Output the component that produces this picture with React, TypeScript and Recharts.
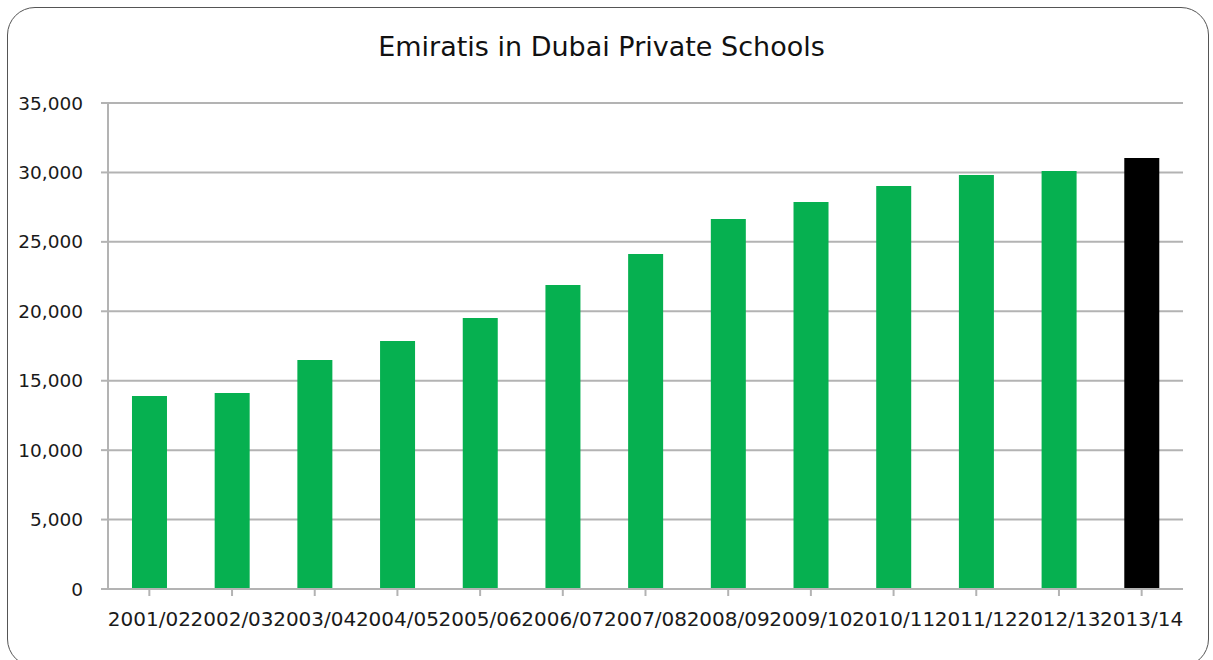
import React from "react";
import { Bar, BarChart, CartesianGrid, Cell, XAxis, YAxis } from "recharts";

const years = [
  "2001/02", "2002/03", "2003/04", "2004/05", "2005/06", "2006/07", "2007/08",
  "2008/09", "2009/10", "2010/11", "2011/12", "2012/13", "2013/14",
];
const students = [
  13900, 14120, 16490, 17860, 19510, 21890, 24130, 26650, 27870, 29020, 29810, 30100, 31040,
];
const yTicks = [0, 5000, 10000, 15000, 20000, 25000, 30000, 35000];

const chartData = years.map((year, i) => ({ year, students: students[i] }));

const fmt = (v: number) => v.toLocaleString("en-US");

const font = "'DejaVu Sans', sans-serif";

export default function App() {
  return (
    <div style={{ position: "absolute", left: 0, top: 0, width: 1213, height: 660, background: "#fff", overflow: "hidden", fontFamily: font }}>
      <div
        style={{
          position: "absolute",
          left: 7,
          top: 7,
          width: 1202,
          height: 660,
          border: "1.5px solid #555",
          borderRadius: 28,
          boxSizing: "border-box",
        }}
      />
      <div
        style={{
          position: "absolute",
          left: 0,
          top: 31,
          width: 1203,
          textAlign: "center",
          fontSize: 27,
          color: "#111",
        }}
      >
        Emiratis in Dubai Private Schools
      </div>
      <div style={{ position: "absolute", left: 0, top: 0 }}>
        <BarChart
          width={1213}
          height={660}
          data={chartData}
          margin={{ top: 103, right: 30, left: 8, bottom: 31 }}
          barCategoryGap="29%"
        >
          <CartesianGrid vertical={false} stroke="#b3b3b3" strokeWidth={2} />
          <XAxis
            dataKey="year"
            interval={0}
            height={40}
            tickSize={7}
            tickMargin={16}
            axisLine={{ stroke: "#b3b3b3", strokeWidth: 2 }}
            tickLine={{ stroke: "#b3b3b3", strokeWidth: 2 }}
            tick={{ fill: "#1a1a1a", fontSize: 20, fontFamily: font }}
          />
          <YAxis
            width={100}
            domain={[0, 35000]}
            ticks={yTicks}
            tickFormatter={fmt}
            tickSize={7}
            tickMargin={18}
            axisLine={{ stroke: "#b3b3b3", strokeWidth: 2 }}
            tickLine={{ stroke: "#b3b3b3", strokeWidth: 2 }}
            tick={{ fill: "#1a1a1a", fontSize: 18.5, fontFamily: font }}
          />
          <Bar dataKey="students" isAnimationActive={false}>
            {chartData.map((d, i) => (
              <Cell key={d.year} fill={i === chartData.length - 1 ? "#000000" : "#06b050"} />
            ))}
          </Bar>
        </BarChart>
      </div>
    </div>
  );
}
